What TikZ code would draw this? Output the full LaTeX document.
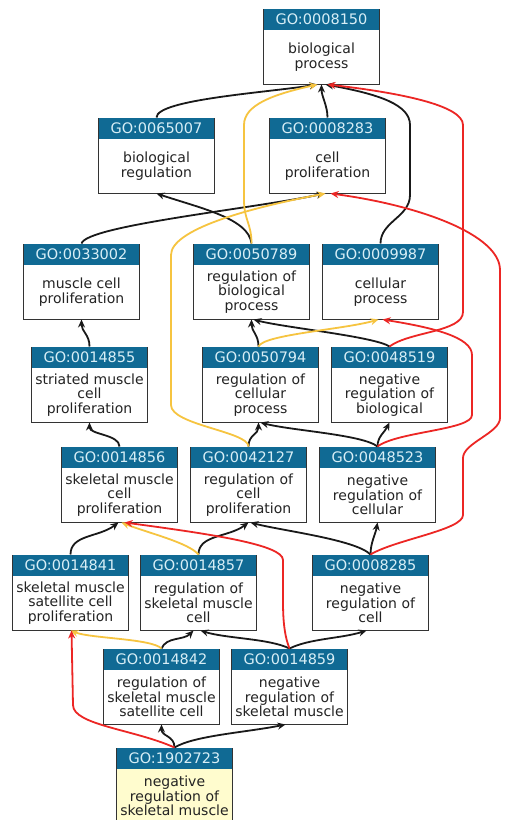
\documentclass[tikz,border=0pt]{standalone}
\usepackage{fontspec}
\setmainfont{DejaVu Sans}
\usetikzlibrary{arrows.meta}
\definecolor{gohead}{RGB}{16,106,148}
\definecolor{goheadtext}{RGB}{215,238,246}
\definecolor{gotext}{RGB}{35,35,35}
\definecolor{goyellow}{RGB}{255,252,206}
\definecolor{isacol}{RGB}{25,25,25}
\definecolor{regcol}{RGB}{246,196,64}
\definecolor{negcol}{RGB}{236,38,36}

\begin{document}
\begin{tikzpicture}[x=1pt,y=-1pt,
  term/.style={draw=black!80,line width=1pt,minimum width=116pt,minimum height=75pt,inner sep=0pt},
  termhead/.style={anchor=north,fill=gohead,text=goheadtext,minimum width=115pt,minimum height=20.5pt,inner sep=0pt,font=\fontsize{14.5pt}{14.5pt}\selectfont},
  termtext/.style={align=center,text=gotext,inner sep=0pt,font=\fontsize{14pt}{14.5pt}\selectfont},
  edge/.style={line width=1.8pt,-{Stealth[length=8pt,width=7pt]}},
  isa/.style={edge,color=isacol},
  regulates/.style={edge,color=regcol},
  negregulates/.style={edge,color=negcol}]
\useasboundingbox[fill=white] (0,0) rectangle (510,820);

% terms
\foreach \nm/\x/\y/\goid/\bg/\lbl in {
  bp/321.5/46.5/0008150/white/{biological\\process},
  breg/156.5/155.5/0065007/white/{biological\\regulation},
  cprol/327.5/155.5/0008283/white/{cell\\proliferation},
  mcp/81.5/281.5/0033002/white/{muscle cell\\proliferation},
  rbp/251.5/281.5/0050789/white/{regulation of\\biological\\process},
  cp/380.5/281.5/0009987/white/{cellular\\process},
  smcp/89.5/384.5/0014855/white/{striated muscle\\cell\\proliferation},
  rcp/260.5/384.5/0050794/white/{regulation of\\cellular\\process},
  nrbp/389.5/384.5/0048519/white/{negative\\regulation of\\biological},
  skmcp/119.5/484.5/0014856/white/{skeletal muscle\\cell\\proliferation},
  rcprol/248.5/484.5/0042127/white/{regulation of\\cell\\proliferation},
  nrcp/377.5/484.5/0048523/white/{negative\\regulation of\\cellular},
  sscp/70.5/592.5/0014841/white/{skeletal muscle\\satellite cell\\proliferation},
  rskmc/198.5/592.5/0014857/white/{regulation of\\skeletal muscle\\cell},
  nrc/370.5/592.5/0008285/white/{negative\\regulation of\\cell},
  rsscp/161.5/686.5/0014842/white/{regulation of\\skeletal muscle\\satellite cell},
  nrskm/289.5/686.5/0014859/white/{negative\\regulation of\\skeletal muscle},
  nrskmp/174.5/785.5/1902723/goyellow/{negative\\regulation of\\skeletal muscle}}{
  \node[term,fill=\bg] (\nm) at (\x,\y) {};
  \node[termhead] at ([yshift=-0.5pt]\nm.north) {GO:\goid};
  \node[termtext] at ([yshift=-10.5pt]\nm.center) {\lbl};
}

% is_a
\draw[isa] (breg.north) .. controls +(0,-18) and +(-50,8) .. ([xshift=-4pt]bp.south);
\draw[isa] (cprol.north) .. controls +(0,-12) and +(0,12) .. (bp.south);
\draw[isa] (cp.north) .. controls +(0,-22) and +(0,22) .. (410,195) -- (410,125) .. controls +(0,-20) and +(55,10) .. ([xshift=4pt]bp.south);
\draw[isa] (rbp.north) .. controls +(-3,-25) and +(45,15) .. (breg.south);
\draw[isa] (mcp.north) .. controls +(5,-18) and +(-70,15) .. ([xshift=-3pt]cprol.south);
\draw[isa] (smcp.north) .. controls +(0,-12) and +(0,12) .. (mcp.south);
\draw[isa] ([xshift=-2pt]rcp.north) .. controls +(0,-12) and +(0,12) .. (rbp.south);
\draw[isa] (nrbp.north) .. controls +(-15,-10) and +(30,8) .. ([xshift=2pt]rbp.south);
\draw[isa] (skmcp.north) .. controls +(0,-12) and +(0,12) .. (smcp.south);
\draw[isa] (rcprol.north) .. controls +(0,-12) and +(0,12) .. ([xshift=-2pt]rcp.south);
\draw[isa] (nrcp.north) .. controls +(-15,-12) and +(30,8) .. (rcp.south);
\draw[isa] (nrcp.north) .. controls +(0,-10) and +(-5,10) .. (nrbp.south);
\draw[isa] (sscp.north) .. controls +(0,-20) and +(-20,15) .. ([xshift=-1pt]skmcp.south);
\draw[isa] (rskmc.north) .. controls +(0,-20) and +(-20,15) .. (rcprol.south);
\draw[isa] (nrc.north) .. controls +(-15,-15) and +(30,8) .. ([xshift=2pt]rcprol.south);
\draw[isa] (nrc.north) .. controls +(0,-12) and +(-2,12) .. (nrcp.south);
\draw[isa] (rsscp.north) .. controls +(5,-12) and +(-10,10) .. ([xshift=-5pt]rskmc.south);
\draw[isa] (nrskm.north) .. controls +(-20,-10) and +(25,8) .. ([xshift=2pt]rskmc.south);
\draw[isa] (nrskm.north) .. controls +(20,-10) and +(-25,8) .. ([xshift=-4pt]nrc.south);
\draw[isa] (nrskmp.north) .. controls +(0,-12) and +(0,12) .. (rsscp.south);
\draw[isa] (nrskmp.north) .. controls +(20,-12) and +(-40,8) .. ([xshift=-4pt]nrskm.south);

% regulates
\draw[regulates] (rbp.north) .. controls +(0,-20) and +(0,20) .. (244,200) -- (244,125) .. controls +(0,-20) and +(-45,10) .. ([xshift=-4pt]bp.south);
\draw[regulates] (rcprol.north) .. controls +(0,-15) and +(0,20) .. (171,405) -- (171,255) .. controls +(0,-25) and +(-80,15) .. ([xshift=-2pt]cprol.south);
\draw[regulates] ([xshift=-2pt]rcp.north) .. controls +(5,-12) and +(-35,10) .. ([xshift=-2pt]cp.south);
\draw[regulates] (rskmc.north) .. controls +(-10,-12) and +(25,10) .. ([xshift=2pt]skmcp.south);
\draw[regulates] (rsscp.north) .. controls +(-10,-10) and +(20,8) .. (sscp.south);

% negatively regulates
\draw[negregulates] (nrbp.north) .. controls +(20,-15) and +(0,20) .. (463,312) -- (463,125) .. controls +(0,-20) and +(70,8) .. ([xshift=6pt]bp.south);
\draw[negregulates] (nrc.north) .. controls +(25,-15) and +(0,15) .. (463,515) -- (463,458) .. controls +(0,-15) and +(0,15) .. (500,418) -- (500,270) .. controls +(0,-35) and +(90,12) .. ([xshift=3pt]cprol.south);
\draw[negregulates] (nrcp.north) .. controls +(20,-15) and +(0,15) .. (472,415) -- (472,355) .. controls +(0,-18) and +(50,8) .. ([xshift=2pt]cp.south);
\draw[negregulates] (nrskm.north) .. controls +(-6,-15) and +(0,15) .. (283,600) -- (283,560) .. controls +(0,-15) and +(90,12) .. ([xshift=5pt]skmcp.south);
\draw[negregulates] (nrskmp.north) .. controls +(-40,-18) and +(0,20) .. (73,705) -- ([xshift=1pt]sscp.south);
\end{tikzpicture}
\end{document}
